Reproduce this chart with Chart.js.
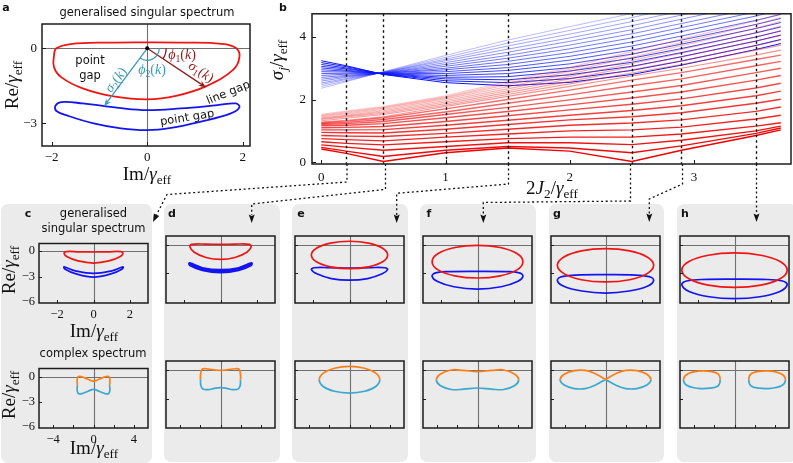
<!DOCTYPE html>
<html>
<head>
<meta charset="utf-8">
<script src="https://cdn.jsdelivr.net/npm/chart.js@4.4.1/dist/chart.umd.min.js"></script>
<style>
  body { margin: 0; width: 793px; height: 463px; position: relative; overflow: hidden; background: #fff; font-family: "DejaVu Sans", sans-serif; color: #111; }
  .box { position: absolute; background: #ebebeb; border-radius: 7px; }
  sub { font-size: 70%; vertical-align: -0.3em; line-height: 0; }
  svg { position: absolute; left: 0; top: 0; }
</style>
</head>
<body>
<div class="box" style="left:1px;top:204px;width:151px;height:259px"></div>
<div class="box" style="left:164px;top:204px;width:116px;height:258px"></div>
<div class="box" style="left:292px;top:204px;width:116px;height:258px"></div>
<div class="box" style="left:420px;top:204px;width:116px;height:258px"></div>
<div class="box" style="left:549px;top:204px;width:115px;height:258px"></div>
<div class="box" style="left:677px;top:204px;width:120px;height:258px"></div>

<script>
// ---- panel b : singular values vs 2J2/gamma ----
const bX = [0, 0.2, 0.5, 1.0, 1.5, 2.0, 2.5, 2.9, 3.5, 3.7];
const cutX = [0.2, 0.5, 1.0, 1.5, 2.5, 2.9, 3.5];

// red family, most saturated first
const redLines = [
  [0.42, 0.28, 0.02, 0.30, 0.45, 0.35, 0.02, 0.38, 0.85, 1.03],
  [0.47, 0.35, 0.18, 0.38, 0.50, 0.45, 0.30, 0.52, 0.92, 1.09],
  [0.55, 0.48, 0.38, 0.50, 0.62, 0.62, 0.56, 0.70, 1.00, 1.15],
  [0.65, 0.60, 0.55, 0.65, 0.75, 0.80, 0.80, 0.90, 1.15, 1.26],
  [0.75, 0.72, 0.68, 0.80, 0.90, 1.00, 1.03, 1.12, 1.38, 1.50],
  [0.85, 0.83, 0.82, 0.92, 1.05, 1.18, 1.25, 1.35, 1.62, 1.76],
  [0.95, 0.94, 0.93, 1.05, 1.20, 1.35, 1.45, 1.58, 1.88, 2.01],
  [1.03, 1.03, 1.04, 1.18, 1.34, 1.50, 1.65, 1.80, 2.12, 2.27],
  [1.10, 1.11, 1.14, 1.30, 1.48, 1.67, 1.85, 2.02, 2.37, 2.52],
  [1.16, 1.18, 1.23, 1.42, 1.62, 1.83, 2.05, 2.24, 2.62, 2.77],
  [1.20, 1.23, 1.30, 1.52, 1.75, 1.99, 2.24, 2.45, 2.86, 3.00],
  [1.23, 1.27, 1.36, 1.60, 1.88, 2.15, 2.44, 2.66, 3.08, 3.22],
  [1.26, 1.31, 1.42, 1.70, 2.00, 2.30, 2.62, 2.86, 3.28, 3.42],
  [1.28, 1.34, 1.45, 1.78, 2.10, 2.42, 2.75, 3.00, 3.42, 3.58],
  [1.32, 1.40, 1.52, 1.82, 2.16, 2.50, 2.85, 3.12, 3.58, 3.74],
  [1.36, 1.44, 1.56, 1.87, 2.22, 2.58, 2.95, 3.24, 3.72, 3.90],
  [1.39, 1.47, 1.60, 1.92, 2.28, 2.66, 3.05, 3.36, 3.86, 4.05],
  [1.42, 1.50, 1.64, 1.97, 2.34, 2.74, 3.15, 3.48, 4.00, 4.20],
  [1.45, 1.54, 1.68, 2.02, 2.41, 2.82, 3.25, 3.60, 4.14, 4.35],
  [1.48, 1.57, 1.72, 2.06, 2.47, 2.90, 3.35, 3.72, 4.28, 4.50],
  [1.50, 1.60, 1.75, 2.09, 2.52, 2.96, 3.44, 3.82, 4.40, 4.62],
  [1.53, 1.63, 1.78, 2.12, 2.58, 3.02, 3.54, 3.93, 4.52, 4.74]
];

// blue family, most saturated first
const blueLines = [
  [3.24, 3.08, 2.80, 2.54, 2.44, 2.55, 2.80, 3.10, 3.60, 3.79],
  [3.18, 3.05, 2.81, 2.60, 2.54, 2.67, 2.93, 3.23, 3.73, 3.92],
  [3.12, 3.01, 2.81, 2.66, 2.63, 2.79, 3.06, 3.37, 3.87, 4.06],
  [3.06, 2.98, 2.82, 2.71, 2.73, 2.91, 3.19, 3.50, 4.00, 4.19],
  [3.01, 2.94, 2.82, 2.77, 2.83, 3.02, 3.32, 3.63, 4.13, 4.32],
  [2.95, 2.91, 2.83, 2.83, 2.93, 3.14, 3.45, 3.77, 4.27, 4.46],
  [2.89, 2.88, 2.83, 2.89, 3.02, 3.26, 3.58, 3.90, 4.40, 4.59],
  [2.83, 2.84, 2.84, 2.95, 3.12, 3.38, 3.71, 4.03, 4.53, 4.72],
  [2.77, 2.81, 2.84, 3.00, 3.22, 3.50, 3.84, 4.17, 4.67, 4.86],
  [2.71, 2.77, 2.85, 3.06, 3.32, 3.62, 3.97, 4.30, 4.80, 4.99],
  [2.65, 2.74, 2.85, 3.12, 3.41, 3.74, 4.10, 4.43, 4.93, 5.12],
  [2.59, 2.71, 2.86, 3.18, 3.51, 3.86, 4.23, 4.57, 5.07, 5.26],
  [2.53, 2.67, 2.87, 3.24, 3.61, 3.97, 4.36, 4.70, 5.20, 5.39],
  [2.48, 2.64, 2.87, 3.29, 3.71, 4.09, 4.49, 4.83, 5.33, 5.52],
  [2.42, 2.60, 2.88, 3.35, 3.80, 4.21, 4.62, 4.97, 5.47, 5.66],
  [2.36, 2.57, 2.89, 3.41, 3.90, 4.33, 4.75, 5.10, 5.60, 5.79]
];

// ---- panel a : generalised singular spectrum (Im, Re), closed loops ----
const aRed = [[-1.95,-0.3],[-1.9,0.0],[-1.6,0.17],[-0.8,0.23],[0,0.24],[0.8,0.23],[1.55,0.18],[1.85,0.02],[1.93,-0.33],[1.8,-0.85],[1.25,-1.5],[0.6,-1.9],[0,-2.04],[-0.7,-1.92],[-1.35,-1.6],[-1.8,-1.15],[-1.95,-0.75]];
const aBlue = [[-1.92,-2.3],[-1.8,-2.15],[-1.35,-2.2],[-0.6,-2.38],[0,-2.47],[0.7,-2.4],[1.47,-2.27],[1.85,-2.2],[1.93,-2.35],[1.75,-2.6],[1.12,-2.93],[0.5,-3.18],[0,-3.27],[-0.55,-3.2],[-1.12,-3.0],[-1.65,-2.7],[-1.9,-2.5]];
const sigma1Tip = [1.23, -1.56];
const sigma2Tip = [-0.9, -2.31];

// ---- panels c-h, top row: generalised singular spectrum, closed loops ----
const cRed = [[-1.62,-0.25],[-1.5,-0.05],[-0.8,-0.08],[0,-0.1],[0.8,-0.08],[1.5,-0.05],[1.62,-0.25],[1.45,-0.65],[0.85,-1.15],[0,-1.4],[-0.85,-1.15],[-1.45,-0.65]];
const cBlue = [[-1.62,-1.85],[-1.0,-2.32],[0,-2.62],[1.0,-2.32],[1.62,-1.85],[1.58,-2.1],[1.0,-2.65],[0,-3.05],[-1.0,-2.65],[-1.58,-2.1]];
const dRed = [[-1.68,-0.25],[-1.6,0.02],[-0.8,0.05],[0,0.03],[0.8,0.05],[1.6,0.02],[1.68,-0.25],[1.45,-0.8],[0.8,-1.35],[0,-1.55],[-0.8,-1.35],[-1.45,-0.8]];
const dBlue = [[-1.7,-1.95],[-1.0,-2.45],[0,-2.65],[1.0,-2.45],[1.7,-1.95],[1.68,-2.15],[1.0,-2.67],[0,-2.9],[-1.0,-2.67],[-1.68,-2.15]];
const eRed = [[2.1,-1.08],[1.82,-0.37],[1.05,0.16],[0,0.35],[-1.05,0.16],[-1.82,-0.37],[-2.1,-1.08],[-1.82,-1.8],[-1.05,-2.32],[0,-2.51],[1.05,-2.32],[1.82,-1.8]];
const eBlue = [[2.1,-2.6],[1.95,-2.42],[1.2,-2.4],[0,-2.45],[-1.2,-2.4],[-1.95,-2.42],[-2.1,-2.6],[-1.8,-3.05],[-1.0,-3.55],[0,-3.72],[1.0,-3.55],[1.8,-3.05]];
const fRed = [[2.5,-1.78],[2.17,-0.93],[1.25,-0.3],[0,-0.07],[-1.25,-0.3],[-2.17,-0.93],[-2.5,-1.78],[-2.17,-2.64],[-1.25,-3.26],[0,-3.49],[1.25,-3.26],[2.17,-2.64]];
const fBlue = [[2.5,-3.3],[2.3,-2.95],[1.5,-2.82],[0,-2.79],[-1.5,-2.82],[-2.3,-2.95],[-2.5,-3.3],[-2.2,-3.85],[-1.3,-4.4],[0,-4.64],[1.3,-4.4],[2.2,-3.85]];
const gRed = [[2.65,-2.16],[2.29,-1.29],[1.33,-0.65],[0,-0.42],[-1.33,-0.65],[-2.29,-1.29],[-2.65,-2.16],[-2.29,-3.03],[-1.33,-3.67],[0,-3.9],[1.33,-3.67],[2.29,-3.03]];
const gBlue = [[2.65,-3.75],[2.4,-3.35],[1.4,-3.17],[0,-3.14],[-1.4,-3.17],[-2.4,-3.35],[-2.65,-3.75],[-2.3,-4.35],[-1.3,-4.85],[0,-5.06],[1.3,-4.85],[2.3,-4.35]];
const hRed = [[2.9,-2.67],[2.51,-1.77],[1.45,-1.11],[0,-0.87],[-1.45,-1.11],[-2.51,-1.77],[-2.9,-2.67],[-2.51,-3.57],[-1.45,-4.23],[0,-4.47],[1.45,-4.23],[2.51,-3.57]];
const hBlue = [[2.9,-4.2],[2.65,-3.8],[1.5,-3.63],[0,-3.6],[-1.5,-3.63],[-2.65,-3.8],[-2.9,-4.2],[-2.5,-4.9],[-1.4,-5.45],[0,-5.65],[1.4,-5.45],[2.5,-4.9]];

// ---- panels c-h, bottom row: complex spectrum, closed loops (orange above Re = -1, cyan below) ----
const specSplit = -1.0;
const cSpec = [[-1.6,-1.0],[-1.62,-0.4],[-1.55,0.0],[-1.25,0.05],[-0.6,-0.25],[0,-0.5],[0.6,-0.25],[1.25,0.05],[1.55,0.0],[1.62,-0.4],[1.6,-1.0],[1.62,-1.6],[1.5,-1.98],[1.15,-2.0],[0.55,-1.72],[0,-1.48],[-0.55,-1.72],[-1.15,-2.0],[-1.5,-1.98],[-1.62,-1.6]];
const dSpec = [[-1.98,-1.05],[-1.98,-0.5],[-1.85,0.1],[-1.45,0.18],[-0.75,0.08],[0,0.0],[0.75,0.08],[1.45,0.18],[1.85,0.1],[1.98,-0.5],[1.98,-1.05],[1.95,-1.6],[1.75,-1.97],[1.2,-2.03],[0.6,-1.9],[0,-1.83],[-0.6,-1.9],[-1.2,-2.03],[-1.75,-1.97],[-1.95,-1.6]];
const eSpec = [[-3.0,-0.99],[-2.6,-0.29],[-1.5,0.23],[0,0.42],[1.5,0.23],[2.6,-0.29],[3.0,-0.99],[2.6,-1.7],[1.5,-2.21],[0,-2.4],[-1.5,-2.21],[-2.6,-1.7]];
const fSpec = [[-4.08,-1.0],[-3.7,-0.4],[-2.6,0.05],[-1.4,0.0],[0,-0.12],[1.4,0.0],[2.6,0.05],[3.7,-0.4],[4.08,-1.0],[3.7,-1.6],[2.6,-2.02],[1.4,-1.98],[0,-1.86],[-1.4,-1.98],[-2.6,-2.02],[-3.7,-1.6]];
const gSpec = [[-4.5,-1.0],[-4.1,-0.4],[-3.1,-0.02],[-2.0,0.0],[-1.0,-0.35],[0,-0.95],[1.0,-1.55],[2.0,-1.92],[3.1,-1.92],[4.1,-1.55],[4.5,-1.0],[4.1,-0.4],[3.1,-0.02],[2.0,0.0],[1.0,-0.35],[0,-0.95],[-1.0,-1.55],[-2.0,-1.92],[-3.1,-1.92],[-4.1,-1.55]];
const hSpecL = [[-5.05,-1.0],[-4.7,-0.4],[-3.6,-0.07],[-2.4,-0.1],[-1.6,-0.4],[-1.42,-1.0],[-1.6,-1.6],[-2.4,-1.88],[-3.6,-1.9],[-4.7,-1.6]];
const hSpecR = [[1.42,-1.0],[1.6,-0.4],[2.4,-0.1],[3.6,-0.07],[4.7,-0.4],[5.05,-1.0],[4.7,-1.6],[3.6,-1.9],[2.4,-1.88],[1.6,-1.6]];

const RED = '#f01414', BLUE = '#1414f2', ORANGE = '#ff7f17', CYAN = '#3ba8cf';
const SERIF = '"Liberation Serif", "DejaVu Serif", serif';
const fmt = v => (v < 0 ? '\u2212' : '') + Math.abs(v);

function loop(pts, color, width, band) {
  return {
    data: pts.map(p => ({ x: p[0], y: p[1] })),
    showLine: true, pointRadius: 0, fill: false, closed: true, band: band,
    borderColor: color, borderWidth: width, tension: 0.4
  };
}

// scatter lines flagged "closed" become smooth closed curves;
// "band" keeps only the part above / below Re = specSplit
const loopTools = {
  id: 'loopTools',
  afterDatasetsUpdate(chart) {
    chart.data.datasets.forEach((ds, i) => {
      if (!ds.closed) return;
      const line = chart.getDatasetMeta(i).dataset;
      if (!line) return;
      line._loop = true;
      line._fullLoop = true;
      line._pointsUpdated = false;
      line._segments = undefined;
      line._path = undefined;
    });
  },
  beforeDatasetDraw(chart, args) {
    const ds = chart.data.datasets[args.index];
    if (!ds.band) return;
    const { ctx, chartArea: a, scales: { y } } = chart;
    const py = y.getPixelForValue(specSplit);
    ctx.save();
    ctx.beginPath();
    if (ds.band === 'above') ctx.rect(0, 0, chart.width, py);
    else ctx.rect(0, py, chart.width, chart.height - py);
    ctx.clip();
  },
  afterDatasetDraw(chart, args) {
    if (chart.data.datasets[args.index].band) chart.ctx.restore();
  }
};

// frame, inward ticks, zero lines, dashed cuts
function framePlugin(cfg) {
  return {
    id: 'frame',
    beforeDatasetsDraw(chart) {
      if (!cfg.zero) return;
      const { ctx, chartArea: a, scales: { x, y } } = chart;
      const px = Math.round(x.getPixelForValue(0)) + 0.5, py = Math.round(y.getPixelForValue(0)) + 0.5;
      ctx.save();
      ctx.strokeStyle = '#707070';
      ctx.lineWidth = 1.1;
      ctx.beginPath();
      ctx.moveTo(px, a.top); ctx.lineTo(px, a.bottom);
      ctx.moveTo(a.left, py); ctx.lineTo(a.right, py);
      ctx.stroke();
      ctx.restore();
    },
    afterDatasetsDraw(chart) {
      const { ctx, chartArea: a, scales: { x, y } } = chart;
      ctx.save();
      if (cfg.cuts) {
        ctx.strokeStyle = '#111'; ctx.lineWidth = 1.4; ctx.setLineDash([2.5, 3]);
        cfg.cuts.forEach(v => {
          const px = Math.round(x.getPixelForValue(v)) + 0.5;
          ctx.beginPath(); ctx.moveTo(px, a.top); ctx.lineTo(px, a.bottom); ctx.stroke();
        });
        ctx.setLineDash([]);
      }
      ctx.strokeStyle = '#1c1c1c'; ctx.lineWidth = 1.5;
      ctx.strokeRect(a.left, a.top, a.right - a.left, a.bottom - a.top);
      ctx.lineWidth = 1;
      ctx.beginPath();
      cfg.tx.forEach(v => {
        const px = Math.round(x.getPixelForValue(v)) + 0.5;
        ctx.moveTo(px, a.bottom); ctx.lineTo(px, a.bottom - cfg.len);
      });
      cfg.ty.forEach(v => {
        const py = Math.round(y.getPixelForValue(v)) + 0.5;
        ctx.moveTo(a.left, py); ctx.lineTo(a.left + cfg.len, py);
      });
      ctx.stroke();
      ctx.restore();
    }
  };
}

// arrows and angle arcs of panel a
const arrowsA = {
  id: 'arrowsA',
  afterDatasetsDraw(chart) {
    const { ctx, scales: { x, y } } = chart;
    const ox = x.getPixelForValue(0), oy = y.getPixelForValue(0);
    ctx.save();
    const arrow = (tip, col) => {
      const tx = x.getPixelForValue(tip[0]), ty = y.getPixelForValue(tip[1]);
      const ang = Math.atan2(ty - oy, tx - ox);
      ctx.strokeStyle = col; ctx.fillStyle = col; ctx.lineWidth = 1.3;
      ctx.beginPath(); ctx.moveTo(ox, oy);
      ctx.lineTo(tx - 5 * Math.cos(ang), ty - 5 * Math.sin(ang)); ctx.stroke();
      ctx.beginPath(); ctx.moveTo(tx, ty);
      ctx.lineTo(tx - 8 * Math.cos(ang - 0.38), ty - 8 * Math.sin(ang - 0.38));
      ctx.lineTo(tx - 5 * Math.cos(ang), ty - 5 * Math.sin(ang));
      ctx.lineTo(tx - 8 * Math.cos(ang + 0.38), ty - 8 * Math.sin(ang + 0.38));
      ctx.closePath(); ctx.fill();
      return ang;
    };
    const a1 = arrow(sigma1Tip, '#8e1c1c');
    const a2 = arrow(sigma2Tip, '#3a9ab8');
    ctx.lineWidth = 1.2;
    ctx.strokeStyle = '#8e1c1c';
    ctx.beginPath(); ctx.arc(ox, oy, 19, 0, a1); ctx.stroke();
    ctx.strokeStyle = '#3a9ab8';
    ctx.beginPath(); ctx.arc(ox, oy, 12, 0, a2); ctx.stroke();
    ctx.fillStyle = '#000';
    ctx.beginPath(); ctx.arc(ox, oy, 2, 0, 2 * Math.PI); ctx.fill();
    ctx.restore();
  }
};

// area: chart area in page px; pad: [left, top, right, bottom] room around it
function makeChart(area, pad, xr, yr, o) {
  const [l, t, w, h] = area;
  const W = w + pad[0] + pad[2], H = h + pad[1] + pad[3];
  const cv = document.createElement('canvas');
  cv.width = W; cv.height = H;
  cv.style.cssText = `position:absolute;left:${l - pad[0]}px;top:${t - pad[1]}px;width:${W}px;height:${H}px`;
  document.body.appendChild(cv);
  const tickFont = { family: SERIF, size: o.fs || 13 };
  return new Chart(cv, {
    type: 'scatter',
    data: { datasets: o.datasets },
    options: {
      responsive: false, animation: false, devicePixelRatio: 1,
      layout: { padding: { left: 0, top: pad[1], right: pad[2], bottom: 0 } },
      plugins: { legend: { display: false }, tooltip: { enabled: false } },
      scales: {
        x: {
          type: 'linear', min: xr[0], max: xr[1],
          grid: { display: false, drawTicks: false }, border: { display: false },
          afterBuildTicks: s => { s.ticks = o.xl.map(v => ({ value: v })); },
          afterFit: s => { s.height = pad[3]; },
          ticks: { display: o.xl.length > 0, font: tickFont, color: '#111', padding: o.px || 4, maxRotation: 0, autoSkip: false, callback: fmt }
        },
        y: {
          type: 'linear', min: yr[0], max: yr[1],
          grid: { display: false, drawTicks: false }, border: { display: false },
          afterBuildTicks: s => { s.ticks = o.yl.map(v => ({ value: v })); },
          afterFit: s => { s.width = pad[0]; },
          ticks: { display: o.yl.length > 0, font: tickFont, color: '#111', padding: o.py || 5, autoSkip: false, callback: fmt }
        }
      }
    },
    plugins: [loopTools, framePlugin(o.frame)].concat(o.extra || [])
  });
}

// panel a
makeChart([42, 24, 208, 122], [42, 24, 10, 30], [-2.2, 2.15], [-3.9, 0.97], {
  datasets: [loop(aRed, RED, 1.8), loop(aBlue, BLUE, 1.8)],
  xl: [-2, 0, 2], yl: [0, -3], px: 4, py: 5,
  frame: { zero: true, tx: [-2, 0, 2], ty: [0, -3], len: 4 },
  extra: [arrowsA]
});

// panel b
const bSets = [];
redLines.forEach((row, i) => bSets.push({
  data: row.map((v, k) => ({ x: bX[k], y: v })),
  showLine: true, pointRadius: 0, fill: false, tension: 0,
  borderWidth: i < 13 ? 1.4 : 1.1,
  borderColor: i < 13 ? `rgba(240,0,0,${(1 - i * 0.035).toFixed(3)})` : `rgba(238,40,40,${(0.5 - (i - 13) * 0.03).toFixed(3)})`
}));
blueLines.forEach((row, i) => bSets.push({
  data: row.map((v, k) => ({ x: bX[k], y: v })),
  showLine: true, pointRadius: 0, fill: false, tension: 0,
  borderWidth: 1,
  borderColor: `rgba(10,20,250,${(1 - i * 0.048).toFixed(3)})`
}));
makeChart([312, 5, 479, 159], [28, 5, 2, 36], [-0.075, 3.782], [-0.06, 4.74], {
  datasets: bSets,
  xl: [0, 1, 2, 3], yl: [0, 2, 4], px: 6, py: 6,
  frame: { tx: [0, 1, 2, 3], ty: [0, 2, 4], len: 4, cuts: cutX }
});

// panels c-h
const lefts = [39, 166, 295, 423, 551, 680];
const upper = [[cRed, cBlue], [dRed, dBlue], [eRed, eBlue], [fRed, fBlue], [gRed, gBlue], [hRed, hBlue]];
const lower = [[cSpec], [dSpec], [eSpec], [fSpec], [gSpec], [hSpecL, hSpecR]];
lefts.forEach((l, i) => {
  const first = i === 0;
  makeChart([l, 236, 109, 67], [26, 4, 4, 22], [-3, 3], [-6.1, 0.9], {
    datasets: [loop(upper[i][0], RED, 1.7), loop(upper[i][1], BLUE, i === 1 ? 2.4 : 1.7)],
    xl: first ? [-2, 0, 2] : [], yl: first ? [0, -3, -6] : [], fs: 12.5, px: 4, py: 4,
    frame: { zero: true, tx: [-2, 0, 2], ty: [0, -3], len: 3 }
  });
  const spec = [];
  lower[i].forEach(pts => {
    spec.push(loop(pts, ORANGE, 1.7, 'above'));
    spec.push(loop(pts, CYAN, 1.7, 'below'));
  });
  makeChart([l, 361, 109, 67], [26, 4, 4, 22], [-5.4, 5.4], [-6.1, 1.0], {
    datasets: spec,
    xl: first ? [-4, 0, 4] : [], yl: first ? [0, -3, -6] : [], fs: 12.5, px: 4, py: 4,
    frame: { zero: true, tx: [-4, -2, 0, 2, 4], ty: [0, -3], len: 3 }
  });
});

// text
function label(html, x, y, css, rot) {
  const d = document.createElement('div');
  d.innerHTML = html;
  d.style.cssText = `position:absolute;left:${x}px;top:${y}px;white-space:nowrap;line-height:1;` +
    `transform:translate(-50%,-50%) rotate(${rot || 0}deg);` + (css || '');
  document.body.appendChild(d);
}
const bold = 'font:bold 11px "DejaVu Sans",sans-serif;';
const sans = 'font:11.5px "DejaVu Sans",sans-serif;';
const serifBig = `font:19px ${SERIF};`;
const RE = 'Re/<i>γ</i><sub>eff</sub>', IM = 'Im/<i>γ</i><sub>eff</sub>';

label('a', 6, 7, bold);
label('generalised singular spectrum', 147, 12, sans);
label('point', 90, 60, sans);
label('gap', 90, 75, sans);
label('line gap', 228, 92, sans, -22);
label('point gap', 187, 117, sans, -9);
label('<i>σ</i><sub>2</sub>(<i>k</i>)', 116, 80, `font:14px ${SERIF};color:#3a9ab8;`, -53);
label('<i>ϕ</i><sub>2</sub>(<i>k</i>)', 152, 70, `font:14px ${SERIF};color:#3a9ab8;`);
label('<i>ϕ</i><sub>1</sub>(<i>k</i>)', 182, 55, `font:14px ${SERIF};color:#8e1c1c;`);
label('<i>σ</i><sub>1</sub>(<i>k</i>)', 201, 72, `font:14px ${SERIF};color:#8e1c1c;`, 34);
label(RE, 12, 85, serifBig, -90);
label(IM, 147, 174, serifBig);

label('b', 283, 7, bold);
label('<i>σ<sub>j</sub></i>/<i>γ</i><sub>eff</sub>', 277, 60, serifBig, -90);
label('2<i>J</i><sub>2</sub>/<i>γ</i><sub>eff</sub>', 552, 188, serifBig);

['c', 'd', 'e', 'f', 'g', 'h'].forEach((s, i) => label(s, [28, 172, 301, 429, 557, 685][i], 213, bold));
label('generalised', 93.5, 213, sans);
label('singular spectrum', 93.5, 228, sans);
label('complex spectrum', 93, 353, sans);
label(RE, 9, 270, serifBig, -90);
label(RE, 9, 395, serifBig, -90);
label(IM, 94, 331, serifBig);
label(IM, 94, 448, serifBig);
</script>

<svg width="793" height="463">
  <g fill="none" stroke="#111" stroke-width="1.3" stroke-dasharray="2 2.6">
    <path d="M347 164 V182 L167 194.5 L156.5 214.8"/>
    <path d="M385.5 164 V189.3 L251.7 204 V215"/>
    <path d="M508.5 164 V184 L396.7 193.3 V215"/>
    <path d="M630.5 164 V201 L483.3 202.5 V215"/>
    <path d="M682.5 164 V184 L649.3 199 V214"/>
    <path d="M756.5 164 V214"/>
  </g>
  <g fill="#111">
    <polygon points="153,222 159.2,216.1 156.5,214.8 153.8,213.5"/>
    <polygon points="251.7,223 248.7,214.5 251.7,216 254.7,214.5"/>
    <polygon points="396.7,223 393.7,214.5 396.7,216 399.7,214.5"/>
    <polygon points="483.3,223 480.3,214.5 483.3,216 486.3,214.5"/>
    <polygon points="649.3,222 646.3,213.5 649.3,215 652.3,213.5"/>
    <polygon points="756.5,222 753.5,213.5 756.5,215 759.5,213.5"/>
  </g>
</svg>
</body>
</html>
